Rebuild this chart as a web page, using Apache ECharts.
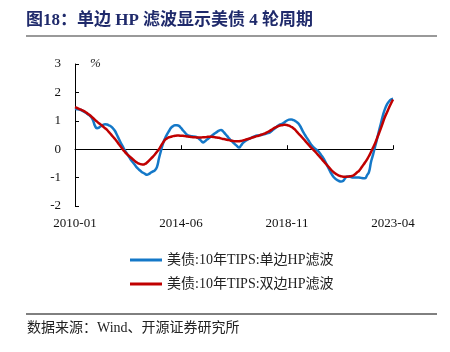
<!DOCTYPE html>
<html>
<head>
<meta charset="utf-8">
<script src="https://cdn.jsdelivr.net/npm/echarts@6/dist/echarts.min.js"></script>
<style>
  html, body { margin: 0; padding: 0; background: #fff; }
  #chart { width: 450px; height: 352px; }
</style>
</head>
<body>
<div id="chart"></div>
<script>
// 月度类目 2010-01 ~ 2023-04
var months = [];
for (var y = 2010; y <= 2023; y++) {
  for (var m = 1; m <= 12; m++) {
    if (y === 2023 && m > 4) break;
    months.push(y + '-' + (m < 10 ? '0' + m : m));
  }
}

// 单边HP滤波
var oneSided = [
  1.42, 1.41, 1.40, 1.38, 1.34, 1.30, 1.25, 1.20, 1.14, 1.02,
  0.82, 0.74, 0.76, 0.82, 0.86, 0.88, 0.87, 0.84, 0.80, 0.73,
  0.64, 0.50, 0.35, 0.21, 0.08, -0.05, -0.16, -0.27, -0.38, -0.47,
  -0.56, -0.65, -0.72, -0.78, -0.83, -0.87, -0.90, -0.87, -0.82, -0.78,
  -0.74, -0.62, -0.32, -0.05, 0.20, 0.38, 0.52, 0.64, 0.75, 0.81,
  0.84, 0.84, 0.82, 0.75, 0.66, 0.58, 0.51, 0.48, 0.46, 0.45,
  0.44, 0.42, 0.37, 0.30, 0.24, 0.28, 0.34, 0.39, 0.45, 0.51,
  0.56, 0.61, 0.65, 0.68, 0.63, 0.55, 0.47, 0.38, 0.31, 0.24,
  0.17, 0.11, 0.06, 0.13, 0.22, 0.28, 0.33, 0.36, 0.40, 0.43,
  0.46, 0.48, 0.49, 0.50, 0.52, 0.53, 0.56, 0.58, 0.62, 0.68,
  0.74, 0.80, 0.85, 0.88, 0.91, 0.96, 1.01, 1.04, 1.05, 1.03,
  1.00, 0.95, 0.88, 0.76, 0.62, 0.50, 0.39, 0.28, 0.17, 0.08,
  0.02, -0.03, -0.10, -0.20, -0.30, -0.42, -0.56, -0.70, -0.84, -0.95,
  -1.03, -1.08, -1.12, -1.14, -1.12, -1.03, -0.96, -0.97, -0.98, -1.00,
  -1.00, -1.00, -1.00, -1.01, -1.02, -1.02, -0.92, -0.80, -0.45, -0.20,
  0.08, 0.35, 0.65, 0.92, 1.20, 1.42, 1.58, 1.68, 1.75, 1.78
];

// 双边HP滤波
var twoSided = [
  1.48, 1.45, 1.42, 1.39, 1.36, 1.32, 1.27, 1.22, 1.16, 1.10,
  1.03, 0.97, 0.91, 0.86, 0.80, 0.74, 0.68, 0.60, 0.52, 0.44,
  0.36, 0.27, 0.17, 0.08, -0.02, -0.10, -0.17, -0.24, -0.30, -0.36,
  -0.42, -0.47, -0.51, -0.53, -0.54, -0.52, -0.47, -0.40, -0.33, -0.26,
  -0.18, -0.09, 0.00, 0.12, 0.23, 0.33, 0.38, 0.42, 0.44, 0.46,
  0.47, 0.48, 0.48, 0.47, 0.47, 0.46, 0.45, 0.44, 0.43, 0.42,
  0.42, 0.41, 0.41, 0.41, 0.42, 0.42, 0.43, 0.44, 0.44, 0.43,
  0.42, 0.41, 0.40, 0.38, 0.36, 0.35, 0.33, 0.32, 0.30, 0.29,
  0.28, 0.28, 0.28, 0.29, 0.31, 0.33, 0.35, 0.37, 0.39, 0.42,
  0.44, 0.46, 0.48, 0.51, 0.53, 0.56, 0.59, 0.63, 0.67, 0.72,
  0.76, 0.79, 0.82, 0.84, 0.85, 0.86, 0.85, 0.83, 0.79, 0.75,
  0.69, 0.61, 0.53, 0.46, 0.38, 0.30, 0.22, 0.14, 0.06, -0.01,
  -0.08, -0.16, -0.24, -0.32, -0.40, -0.48, -0.56, -0.64, -0.72, -0.79,
  -0.85, -0.89, -0.93, -0.95, -0.97, -0.97, -0.97, -0.96, -0.95, -0.93,
  -0.88, -0.82, -0.76, -0.67, -0.57, -0.47, -0.36, -0.24, -0.10, 0.05,
  0.20, 0.38, 0.56, 0.75, 0.95, 1.14, 1.30, 1.46, 1.61, 1.75
];

var seriesNames = ['美债:10年TIPS:单边HP滤波', '美债:10年TIPS:双边HP滤波'];
var fontFam = '"Liberation Serif", "Times New Roman", "Noto Sans CJK SC", serif';

var chart = echarts.init(document.getElementById('chart'));
var option = {
  backgroundColor: '#fff',
  animation: false,
  title: {
    text: '图18：单边 HP 滤波显示美债 4 轮周期',
    left: 21,
    top: 7,
    textStyle: { color: '#1f2a6b', fontSize: 17, fontWeight: 'bold', fontFamily: fontFam }
  },
  graphic: [
    { type: 'line', shape: { x1: 26, y1: 36, x2: 437, y2: 36 }, style: { stroke: '#777', lineWidth: 1.5 } },
    { type: 'line', shape: { x1: 26, y1: 314, x2: 437, y2: 314 }, style: { stroke: '#000', lineWidth: 1 } },
    { type: 'text', left: 27, top: 321, style: { text: '数据来源：Wind、开源证券研究所', fill: '#222', font: '14px ' + fontFam } },
    { type: 'text', left: 90, top: 57, style: { text: '%', fill: '#222', font: 'italic 13px ' + fontFam } }
  ],
  legend: {
    orient: 'vertical',
    left: 125,
    top: 248,
    itemWidth: 32,
    itemHeight: 3,
    itemGap: 10,
    icon: 'rect',
    textStyle: { color: '#222', fontSize: 14, fontFamily: fontFam },
    data: seriesNames
  },
  grid: { left: 75, right: 57, top: 64, bottom: 146 },
  xAxis: {
    type: 'category',
    data: months,
    boundaryGap: false,
    axisLine: { onZero: true, lineStyle: { color: '#000', width: 1 } },
    axisTick: { inside: true, length: 4, interval: 52, lineStyle: { color: '#000' } },
    axisLabel: { interval: 52, margin: 11, color: '#111', fontSize: 13, fontFamily: fontFam, showMaxLabel: true },
    splitLine: { show: false }
  },
  yAxis: {
    type: 'value',
    min: -2,
    max: 3,
    interval: 1,
    axisLine: { show: true, lineStyle: { color: '#000', width: 1 } },
    axisTick: { show: true, inside: true, length: 4, lineStyle: { color: '#000' } },
    axisLabel: { margin: 14, color: '#111', fontSize: 13, fontFamily: fontFam },
    splitLine: { show: false }
  },
  series: [
    {
      name: seriesNames[0],
      type: 'line',
      data: oneSided,
      smooth: true,
      showSymbol: false,
      lineStyle: { color: '#1478c8', width: 2.5 },
      itemStyle: { color: '#1478c8' }
    },
    {
      name: seriesNames[1],
      type: 'line',
      data: twoSided,
      smooth: true,
      showSymbol: false,
      lineStyle: { color: '#c00000', width: 2.5 },
      itemStyle: { color: '#c00000' }
    }
  ]
};
chart.setOption(option);
</script>
</body>
</html>
